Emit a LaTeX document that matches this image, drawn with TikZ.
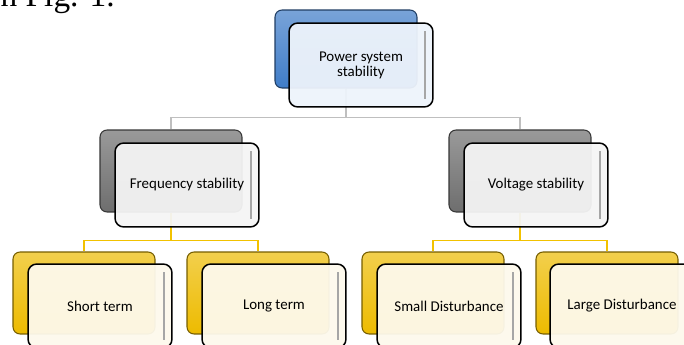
\documentclass[tikz,border=0pt]{standalone}
\usepackage{fontspec}
\setmainfont{Carlito}
\newfontfamily\captionfont{Liberation Serif}
\usetikzlibrary{positioning}
\usetikzlibrary{backgrounds}
\usetikzlibrary{calc}

\definecolor{levelblue}{HTML}{3F7CC8}
\definecolor{levelgrey}{HTML}{6E6E6E}
\definecolor{levelgold}{HTML}{EDBB00}
\definecolor{tintblue}{HTML}{EDF3FB}
\definecolor{tintgrey}{HTML}{F4F4F4}
\definecolor{tintgold}{HTML}{FDF9EC}
\definecolor{linegrey}{HTML}{BFBFBF}
\definecolor{linegold}{HTML}{F2C200}

\tikzset{
  backbox/.style={draw=#1!50!black, line width=0.6pt, rounded corners=4pt,
    top color=#1!70!white, bottom color=#1,
    minimum width=2.84cm, minimum height=1.64cm},
  frontbox/.style={draw=black, line width=0.85pt, rounded corners=5pt,
    fill=#1, fill opacity=0.95, text opacity=1,
    minimum width=2.88cm, minimum height=1.68cm, align=center,
    font=\fontsize{8.5}{8.5}\selectfont},
  glossbar/.style={draw=black!35, line width=1.6pt},
  shine/.style={draw=white, line width=1.4pt, opacity=0.75},
  greyline/.style={draw=linegrey, line width=0.8pt},
  goldline/.style={draw=linegold, line width=0.8pt},
}

\begin{document}
\begin{tikzpicture}[x=0.02cm, y=-0.02cm]

    \useasboundingbox (0,0) rectangle (684,345);

    % caption text cut by the page edge
    \node[font=\captionfont\fontsize{19}{19}\selectfont, anchor=base west, inner sep=0pt] (caption) at (-9,6) {in Fig. 1.};

    % level 1
    \node[backbox=levelblue, minimum height=1.56cm] (pssb) at (346,49) {};
    \node[frontbox=tintblue] (pss) at (361,65) {Power system\\stability};

    % level 2
    \node[backbox=levelgrey] (freqb) at (171,171) {};
    \node[frontbox=tintgrey] (freq) at (187,185) {Frequency stability};

    \node[backbox=levelgrey] (voltb) at (520,171) {};
    \node[frontbox=tintgrey] (volt) at (536,185) {Voltage stability};

    % level 3
    \node[backbox=levelgold] (shortb) at (84,293) {};
    \node[frontbox=tintgold] (short) at (100,306) {Short term};

    \node[backbox=levelgold] (longb) at (258,293) {};
    \node[frontbox=tintgold] (long) at (274,306) {Long term};

    \node[backbox=levelgold] (smallb) at (433,293) {};
    \node[frontbox=tintgold] (small) at (449,306) {Small Disturbance};

    \node[backbox=levelgold] (largeb) at (607,293) {};
    \node[frontbox=tintgold] (large) at (622,306) {Large Disturbance};

    % gloss on the boxes
    \foreach \n in {pss,freq,volt,short,long,small,large}
        \draw[glossbar] ([xshift=-5pt,yshift=-5pt]\n.north east) -- ([xshift=-5pt,yshift=5pt]\n.south east);
    \begin{scope}[on background layer]
    \foreach \n in {pssb,freqb,voltb,shortb,longb,smallb,largeb}
        \draw[shine] ([xshift=3.5pt,yshift=-6pt]\n.north west) -- ([xshift=3.5pt,yshift=6pt]\n.south west);
    \end{scope}

    % connectors
    \begin{scope}[on background layer]
    \draw[greyline] (pssb.south) -- ++(0,29) -| (freqb.north);
    \draw[greyline] (pssb.south) ++(0,29) -| (voltb.north);

    \draw[goldline] (freqb.south) -- ++(0,28) -| (shortb.north);
    \draw[goldline] (freqb.south) ++(0,28) -| (longb.north);

    \draw[goldline] (voltb.south) -- ++(0,28) -| (smallb.north);
    \draw[goldline] (voltb.south) ++(0,28) -| (largeb.north);
    \end{scope}

\end{tikzpicture}
\end{document}
